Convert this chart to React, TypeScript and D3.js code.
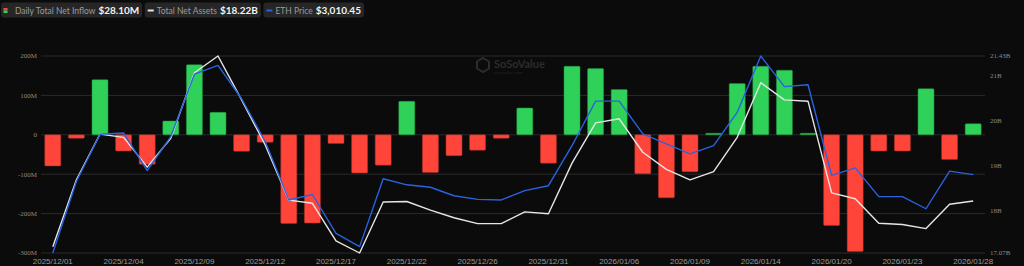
import React, { useLayoutEffect, useRef, useState } from "react";
import * as d3 from "d3";

const dates = [
  "2025/12/01","2025/12/02","2025/12/03","2025/12/04","2025/12/05","2025/12/08","2025/12/09","2025/12/10","2025/12/11","2025/12/12",
  "2025/12/15","2025/12/16","2025/12/17","2025/12/18","2025/12/19","2025/12/22","2025/12/23","2025/12/24","2025/12/26","2025/12/29",
  "2025/12/30","2025/12/31","2026/01/02","2026/01/05","2026/01/06","2026/01/07","2026/01/08","2026/01/09","2026/01/12","2026/01/13",
  "2026/01/14","2026/01/15","2026/01/16","2026/01/20","2026/01/21","2026/01/22","2026/01/23","2026/01/26","2026/01/27","2026/01/28",
];

// Daily total net inflow, millions USD
const netInflow = [
  -79, -9, 140, -41, -75, 35, 178, 57, -42, -19,
  -225, -224, -22, -97, -77, 85, -96, -53, -39, -9,
  68, -72, 174, 168, 115, -99, -160, -94, 4, 130,
  174, 164, 4, -230, -296, -41, -41, 117, -63, 28.1,
];

// Total net assets, billions USD
const totalAssets = [
  17.21, 18.69, 19.70, 19.63, 18.97, 19.61, 21.06, 21.43, 20.46, 19.46,
  18.24, 18.17, 17.34, 17.07, 18.20, 18.21, 18.02, 17.85, 17.72, 17.72,
  17.98, 17.94, 19.06, 19.95, 20.04, 19.30, 18.92, 18.69, 18.87, 19.63,
  20.84, 20.46, 20.43, 18.40, 18.27, 17.73, 17.70, 17.61, 18.15, 18.22,
];

// ETH price, USD
const ethPrice = [
  2752, 2988, 3144, 3148, 3024, 3136, 3342, 3371, 3261, 3120,
  2927, 2945, 2817, 2773, 2997, 2977, 2969, 2941, 2929, 2927,
  2958, 2974, 3106, 3253, 3253, 3145, 3112, 3079, 3106, 3216,
  3402, 3301, 3307, 3008, 3033, 2938, 2938, 2898, 3022, 3010.45,
];

const xTickLabels = [
  "2025/12/01","2025/12/04","2025/12/09","2025/12/12","2025/12/17","2025/12/22","2025/12/26",
  "2025/12/31","2026/01/06","2026/01/09","2026/01/14","2026/01/20","2026/01/23","2026/01/28",
];
const leftTicks = [-300, -200, -100, 0, 100, 200];
const rightTicks = [18, 19, 20, 21];
const legendLabels = ["Daily Total Net Inflow", "Total Net Assets", "ETH Price"];

const W = 1024, H = 266;
const PLOT = { left: 41, right: 985, top: 56, bottom: 253 };
const GREEN = "#30d158", RED = "#ff453a", BLUE = "#2a62e0", WHITE = "#e6e6e6";

export default function App() {
  const x = d3.scaleBand<string>().domain(dates).range([PLOT.left, PLOT.right]).paddingInner(0.32).paddingOuter(0.16);
  const yL = d3.scaleLinear().domain([-300, 200]).range([PLOT.bottom, PLOT.top]);
  const aExt = d3.extent(totalAssets) as [number, number];
  const yR = d3.scaleLinear().domain(aExt).range([PLOT.bottom, PLOT.top]);
  const eExt = d3.extent(ethPrice) as [number, number];
  const yE = d3.scaleLinear().domain(eExt).range([PLOT.bottom, PLOT.top]);
  const cx = (d: string) => (x(d) as number) + x.bandwidth() / 2;

  const assetsLine = d3.line<number>().x((_, i) => cx(dates[i])).y((v) => yR(v))(totalAssets) as string;
  const ethLine = d3.line<number>().x((_, i) => cx(dates[i])).y((v) => yE(v))(ethPrice) as string;

  const rightAll = [aExt[0], ...rightTicks, aExt[1]];
  const fmtR = (v: number) => (Number.isInteger(v) ? `${v}B` : `${v.toFixed(2)}B`);
  const fmtL = (v: number) => (v === 0 ? "0" : `${v}M`);

  const last = dates.length - 1;
  const legendFont = "Lato, 'Open Sans', sans-serif";

  const labelRefs = [useRef<SVGTextElement>(null), useRef<SVGTextElement>(null), useRef<SVGTextElement>(null)];
  const valueRefs = [useRef<SVGTextElement>(null), useRef<SVGTextElement>(null), useRef<SVGTextElement>(null)];
  const [layout, setLayout] = useState<{ labelW: number[]; valueW: number[] } | null>(null);
  useLayoutEffect(() => {
    const lw = labelRefs.map((r) => (r.current ? r.current.getComputedTextLength() : 60));
    const vw = valueRefs.map((r) => (r.current ? r.current.getComputedTextLength() : 30));
    setLayout({ labelW: lw, valueW: vw });
  }, []);

  const values = [
    `$${netInflow[last].toFixed(2)}M`,
    `$${totalAssets[last].toFixed(2)}B`,
    `$${d3.format(",.2f")(ethPrice[last])}`,
  ];
  // compute legend item positions
  const items: { bx: number; bw: number; lx: number; vx: number }[] = [];
  let cursor = 1;
  for (let i = 0; i < 3; i++) {
    const iconW = i === 0 ? 14 : 12;
    const lw = layout ? layout.labelW[i] : 60;
    const vw = layout ? layout.valueW[i] : 30;
    const bx = cursor;
    const lx = bx + iconW;
    const vx = lx + lw + 3;
    const bw = vx + vw + 3 - bx;
    items.push({ bx, bw, lx, vx });
    cursor = bx + bw + 2.5;
  }

  return (
    <svg width={W} height={H} style={{ position: "fixed", left: 0, top: 0, display: "block" }}>
      <rect x={0} y={0} width={W} height={H} fill="#0b0b0b" />

      {/* watermark */}
      <g>
        <path d="M483 58 l6 3.5 v7 l-6 3.5 l-6 -3.5 v-7 z" fill="none" stroke="#2c2c2c" strokeWidth={2} />
        <text x={494} y={68} fontFamily={legendFont} fontWeight={700} fontSize={11} fill="#2c2c2c">SoSoValue</text>
        <text x={494} y={74} fontFamily={legendFont} fontSize={4.5} fill="#262626">sosovalue.com</text>
      </g>

      {/* grid */}
      {leftTicks.map((t) => (
        <line key={t} x1={PLOT.left} x2={PLOT.right} y1={yL(t)} y2={yL(t)} stroke="#2a2a2a" strokeWidth={1} />
      ))}

      {/* left axis labels */}
      {leftTicks.map((t) => (
        <text key={t} x={37} y={yL(t)} dy="0.35em" textAnchor="end" fontFamily="'Liberation Serif', serif" fontSize={7} fill="#8a8a8a">
          {fmtL(t)}
        </text>
      ))}
      {/* right axis labels */}
      {rightAll.map((t) => (
        <text key={t} x={990} y={yR(t)} dy="0.35em" textAnchor="start" fontFamily="'Liberation Serif', serif" fontSize={7} fill="#8a8a8a">
          {fmtR(t)}
        </text>
      ))}

      {/* bars */}
      {netInflow.map((v, i) => {
        const y0 = yL(0), y1 = yL(v);
        return (
          <rect key={i} x={x(dates[i])} y={Math.min(y0, y1)} width={x.bandwidth()} height={Math.max(0.8, Math.abs(y1 - y0))}
            fill={v >= 0 ? GREEN : RED} stroke={v >= 0 ? "#1f8a3c" : "#a32c25"} strokeWidth={0.5} rx={1} />
        );
      })}

      {/* lines */}
      <path d={assetsLine} fill="none" stroke={WHITE} strokeWidth={1.4} strokeLinejoin="round" />
      <path d={ethLine} fill="none" stroke={BLUE} strokeWidth={1.4} strokeLinejoin="round" />

      {/* x labels */}
      {xTickLabels.map((d) => (
        <text key={d} x={cx(d)} y={264} textAnchor="middle" fontFamily="'Liberation Sans', Arial, sans-serif" fontSize={8} fill="#9a9a9a">
          {d}
        </text>
      ))}

      {/* legend */}
      <g fontFamily={legendFont}>
        {items.map((it, i) => (
          <g key={i}>
            <rect x={it.bx} y={2.5} width={it.bw} height={15} rx={3} fill="#262626" />
            {i === 0 ? (
              <>
                <rect x={it.bx + 2.5} y={8} width={4} height={2.5} fill={RED} />
                <rect x={it.bx + 2.5} y={10.5} width={4} height={2.5} fill={GREEN} />
              </>
            ) : (
              <rect x={it.bx + 3} y={9.5} width={6} height={2} fill={i === 1 ? WHITE : BLUE} />
            )}
            <text ref={labelRefs[i]} x={it.lx} y={13.5} fontSize={8.5} fill="#9c9c9c">{legendLabels[i]}</text>
            <text ref={valueRefs[i]} x={it.vx} y={13.8} fontSize={10} fontWeight={700} fill="#f2f2f2">{values[i]}</text>
          </g>
        ))}
      </g>
    </svg>
  );
}
